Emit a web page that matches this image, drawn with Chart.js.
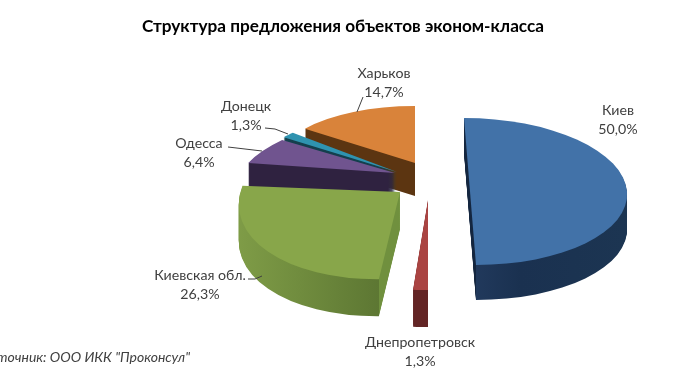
<!DOCTYPE html>
<html>
<head>
<meta charset="utf-8">
<style>
  html, body { margin: 0; padding: 0; background: #fff; }
  canvas { display: block; filter: blur(0.4px); }
</style>
<script src="https://cdn.jsdelivr.net/npm/chart.js@4"></script>
</head>
<body>
<canvas id="chartJSContainer" width="686" height="386"></canvas>
<script>
var cities = ['Киев', 'Днепропетровск', 'Киевская обл.', 'Одесса', 'Донецк', 'Харьков'];
var shares = [50.0, 1.3, 26.3, 6.4, 1.3, 14.7];
var topColors = ['#4272a8', '#aa4442', '#88a64a', '#70548f', '#2f93b0', '#d9833a'];

var chartTitle = 'Структура предложения объектов эконом-класса';
var sourceNote = 'Источник: ООО ИКК "Проконсул"';

// how each exploded slice sits in the fake 3D view (ax,ay = tip, A,B,C,E = tilt, depth = wall)
var sliceViews = [
  { ax: 470, ay: 191.5, A: 157, B: 0, C: -6, E: 73.5, depth: 35, side: [[464, '#14263f'], [476, '#14263f'], [476, '#21395c'], [520, '#1a3150'], [627, '#1c3552']] },
  { ax: 428, ay: 200, A: 183, B: 0, C: 0, E: 90, depth: 37, side: [[410, '#632525'], [430, '#632525']] },
  { ax: 400, ay: 192, A: 161, B: -8, C: 8, E: 87, depth: 37, side: [[237, '#7f9c47'], [300, '#708c3e'], [379, '#5d7733'], [379, '#70903e'], [400, '#70903e']] },
  { ax: 395, ay: 173, A: 154, B: 0, C: 32, E: 61.6, depth: 30, side: [[248, '#2f2240'], [400, '#2f2240']] },
  { ax: 397, ay: 172, A: 153, B: 0, C: 29.6, E: 65, depth: 22, side: [[280, '#143f4d'], [400, '#143f4d']] },
  { ax: 415, ay: 163, A: 138, B: 0, C: 0, E: 57, depth: 33, side: [[300, '#5c3511'], [420, '#5c3511']] }
];
var drawOrder = [5, 4, 3, 2, 1, 0];

var labelSpots = [
  { x: 618, y: 110 }, { x: 420, y: 342 }, { x: 200, y: 275 },
  { x: 199, y: 143 }, { x: 246, y: 106 }, { x: 384, y: 73 }
];
var leaderLines = [
  null, null,
  [[248, 279], [255, 279], [262, 276]],
  [[228, 147], [262, 151]],
  [[265, 128], [275, 129], [288, 134]],
  [[363, 97], [357, 112]]
];

function fmt(v) {
  return v.toFixed(1).replace('.', ',') + '%';
}

function drawSlice(ctx, arc, view, shiftY, fill) {
  var p = arc.getProps(['x', 'y', 'outerRadius'], true);
  var r0 = p.outerRadius;
  var saved = arc.options;
  var opts = Object.create(saved);
  Object.defineProperty(opts, 'backgroundColor', { value: fill, writable: true });
  ctx.save();
  ctx.translate(0, shiftY);
  ctx.translate(view.ax, view.ay);
  ctx.transform(view.A / r0, view.B / r0, -view.C / r0, view.E / r0, 0, 0);
  ctx.translate(-p.x, -p.y);
  if (fill === null) {
    // side walls, shaded along screen x whatever the slice's tilt is
    var m = ctx.getTransform();
    var n = m.a * m.a + m.c * m.c;
    var x0 = view.side[0][0], x1 = view.side[view.side.length - 1][0];
    var g = ctx.createLinearGradient((x0 - m.e) * m.a / n, (x0 - m.e) * m.c / n, (x1 - m.e) * m.a / n, (x1 - m.e) * m.c / n);
    view.side.forEach(function (s) { g.addColorStop((s[0] - x0) / (x1 - x0), s[1]); });
    opts.backgroundColor = g;
  }
  arc.options = opts;
  arc.draw(ctx);
  arc.options = saved;
  ctx.restore();
}

var fakePie3d = {
  id: 'fakePie3d',
  beforeDatasetsDraw: function (chart) {
    var ctx = chart.ctx;
    var arcs = chart.getDatasetMeta(0).data;
    drawOrder.forEach(function (i) {
      var view = sliceViews[i];
      for (var d = view.depth; d > 0; d--) {
        drawSlice(ctx, arcs[i], view, d, null);
      }
      drawSlice(ctx, arcs[i], view, 0, topColors[i]);
    });
    return false;
  },
  afterDraw: function (chart) {
    var ctx = chart.ctx;
    ctx.save();
    ctx.strokeStyle = '#404040';
    ctx.lineWidth = 1;
    leaderLines.forEach(function (line) {
      if (!line) return;
      ctx.beginPath();
      line.forEach(function (pt, k) {
        if (k === 0) ctx.moveTo(pt[0], pt[1]); else ctx.lineTo(pt[0], pt[1]);
      });
      ctx.stroke();
    });
    ctx.fillStyle = '#404040';
    ctx.textAlign = 'center';
    ctx.textBaseline = 'middle';
    ctx.font = '14.2px Lato, "Open Sans", sans-serif';
    cities.forEach(function (name, i) {
      ctx.fillText(name, labelSpots[i].x, labelSpots[i].y);
      ctx.fillText(fmt(shares[i]), labelSpots[i].x, labelSpots[i].y + 19);
    });
    ctx.textAlign = 'right';
    ctx.font = 'italic 14px Lato, "Open Sans", sans-serif';
    ctx.fillText(sourceNote, 190, 357);
    ctx.restore();
  }
};

var options = {
  type: 'pie',
  data: {
    labels: cities,
    datasets: [{
      data: shares,
      backgroundColor: topColors,
      borderWidth: 0
    }]
  },
  options: {
    responsive: false,
    animation: false,
    layout: { padding: { top: 16, left: 20, right: 20, bottom: 20 } },
    plugins: {
      legend: { display: false },
      tooltip: { enabled: false },
      title: {
        display: true,
        text: chartTitle,
        color: '#000',
        font: { family: 'Lato, "Open Sans", sans-serif', size: 17.2, weight: 'bold' },
        padding: { top: 0, bottom: 0 }
      }
    }
  },
  plugins: [fakePie3d]
};

var ctx = document.getElementById('chartJSContainer');
var myPieChart = new Chart(ctx, options);
</script>
</body>
</html>
